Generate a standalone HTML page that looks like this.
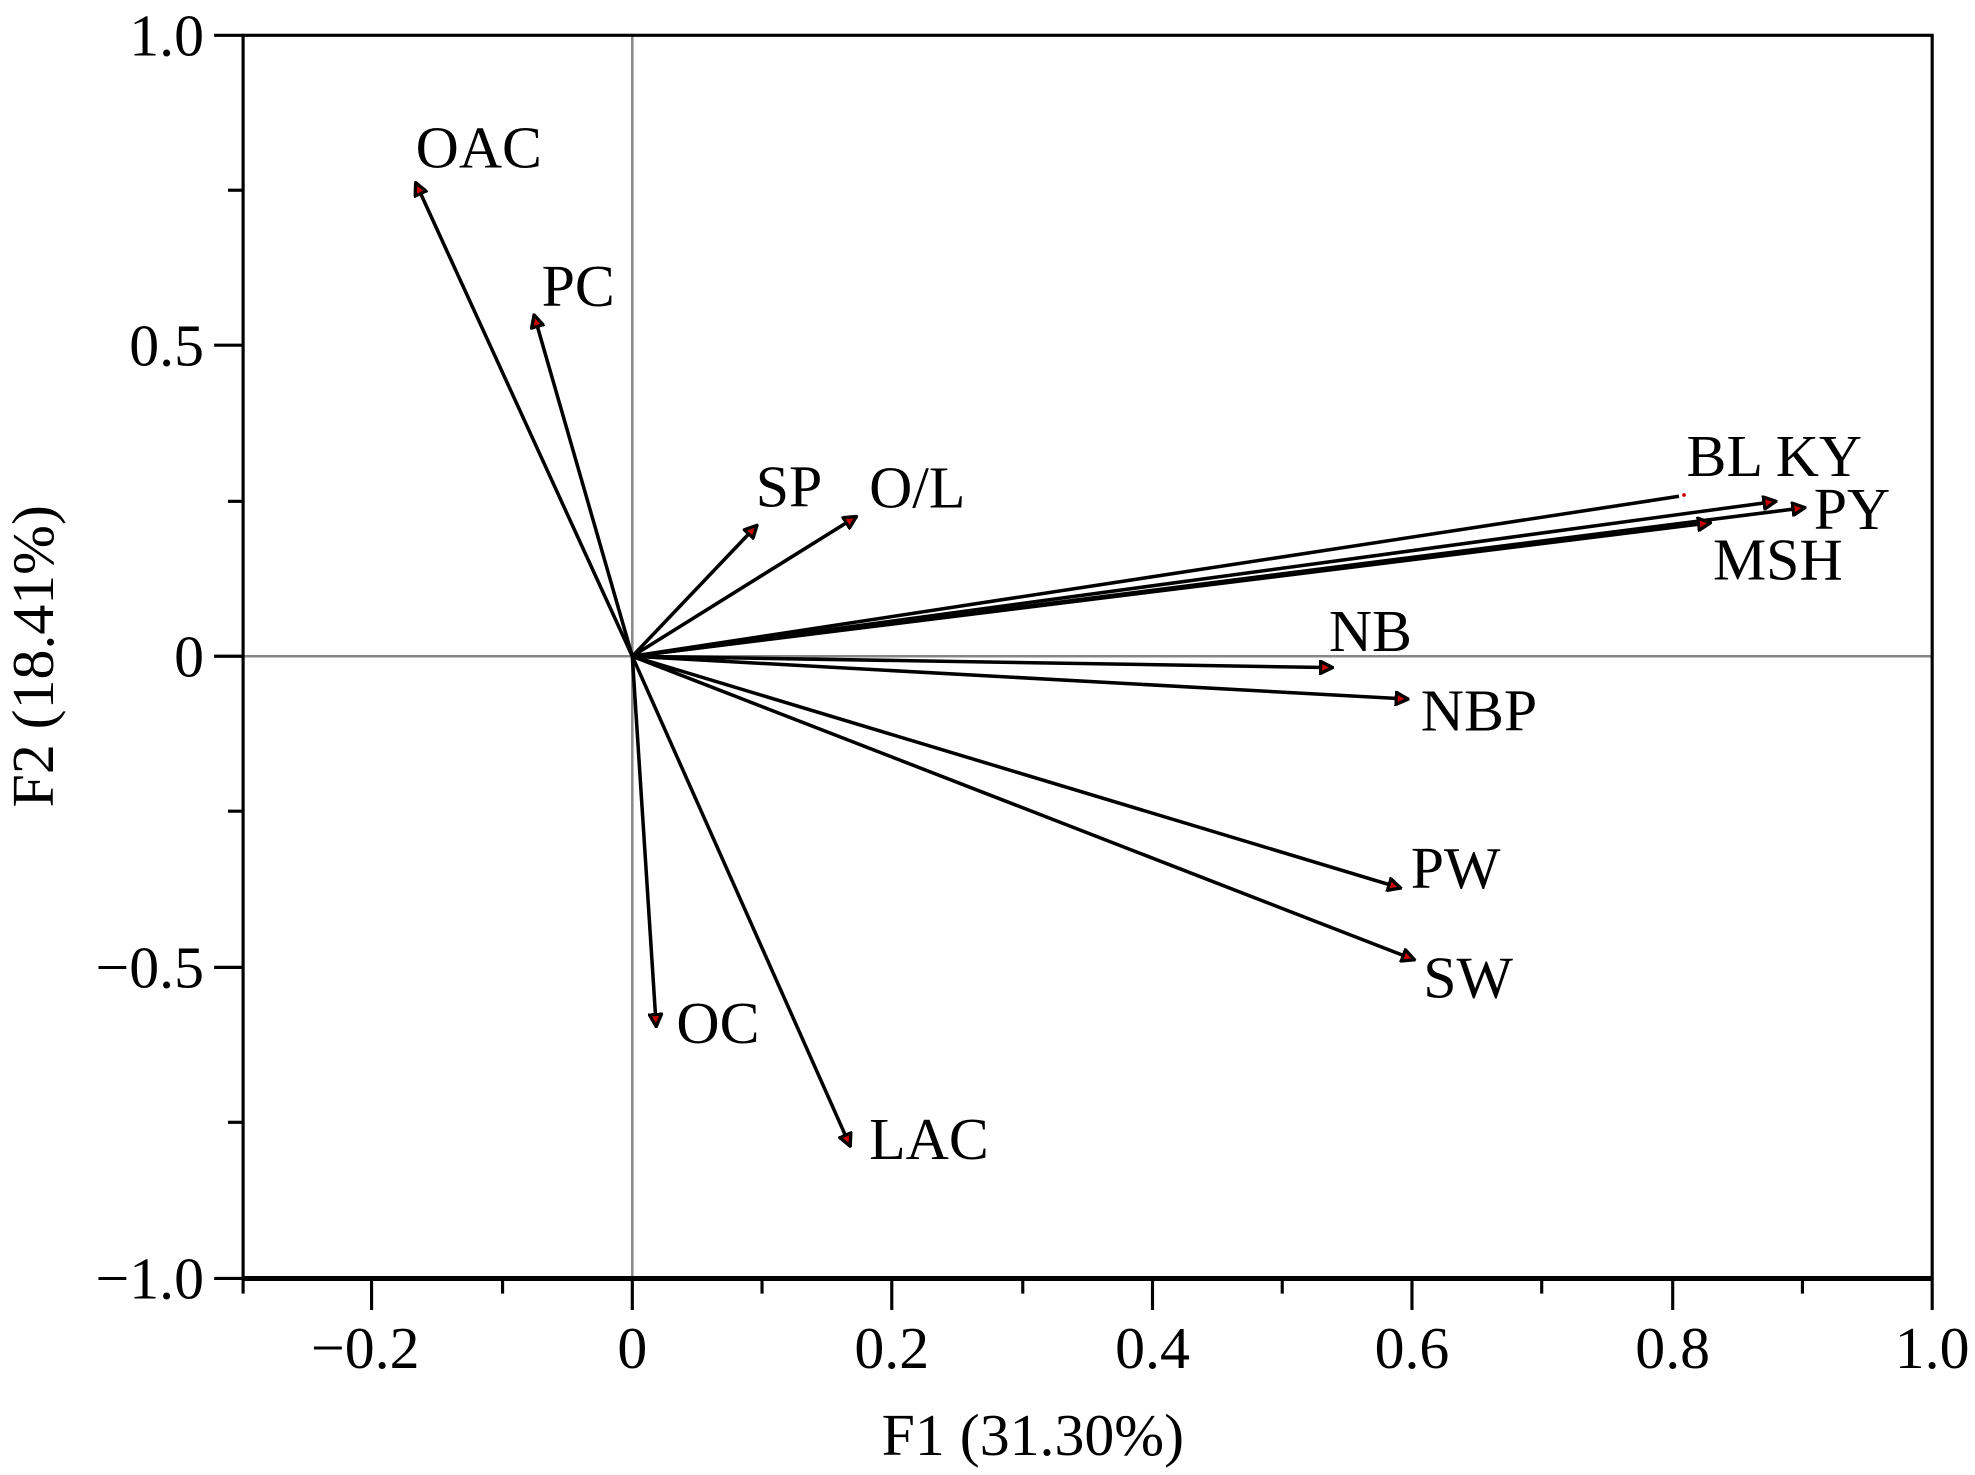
<!DOCTYPE html>
<html><head><meta charset="utf-8"><style>html,body{margin:0;padding:0;background:#fff}svg{display:block}</style></head><body>
<svg width="1975" height="1475" viewBox="0 0 1568 1171" xmlns="http://www.w3.org/2000/svg" font-family="'Liberation Serif', serif" font-size="47.5">
<defs>
<marker id="ah" viewBox="0 0 10 10" refX="9" refY="5" markerWidth="12" markerHeight="12" orient="auto" markerUnits="userSpaceOnUse">
<path d="M1,1 L9,5 L1,9 Z" fill="#c00" stroke="#000" stroke-width="2.2"/>
</marker>
</defs>
<rect x="0" y="0" width="1568" height="1171" fill="#fff"/>
<line x1="502" y1="28" x2="502" y2="1015" stroke="#888" stroke-width="2"/>
<line x1="193" y1="521" x2="1534" y2="521" stroke="#888" stroke-width="2"/>
<rect x="193" y="28" width="1341" height="987" fill="none" stroke="#000" stroke-width="2.5"/>
<line x1="193" y1="1015" x2="1534" y2="1015" stroke="#000" stroke-width="4"/>
<g stroke="#000" stroke-width="2.5">
<line x1="170" y1="28" x2="193" y2="28"/><line x1="181" y1="151" x2="193" y2="151"/>
<line x1="170" y1="274" x2="193" y2="274"/><line x1="181" y1="398" x2="193" y2="398"/>
<line x1="170" y1="521" x2="193" y2="521"/><line x1="181" y1="644" x2="193" y2="644"/>
<line x1="170" y1="768" x2="193" y2="768"/><line x1="181" y1="891" x2="193" y2="891"/>
<line x1="170" y1="1015" x2="193" y2="1015"/>
<line x1="193" y1="1015" x2="193" y2="1027"/>
<line x1="295" y1="1015" x2="295" y2="1040"/><line x1="399" y1="1015" x2="399" y2="1027"/>
<line x1="502" y1="1015" x2="502" y2="1040"/><line x1="605" y1="1015" x2="605" y2="1027"/>
<line x1="708" y1="1015" x2="708" y2="1040"/><line x1="812" y1="1015" x2="812" y2="1027"/>
<line x1="915" y1="1015" x2="915" y2="1040"/><line x1="1018" y1="1015" x2="1018" y2="1027"/>
<line x1="1121" y1="1015" x2="1121" y2="1040"/><line x1="1224" y1="1015" x2="1224" y2="1027"/>
<line x1="1328" y1="1015" x2="1328" y2="1040"/><line x1="1431" y1="1015" x2="1431" y2="1027"/>
<line x1="1534" y1="1015" x2="1534" y2="1040"/>
</g>
<g text-anchor="end">
<text x="162" y="44">1.0</text><text x="162" y="290">0.5</text><text x="162" y="537">0</text>
<text x="162" y="784">−0.5</text><text x="162" y="1031">−1.0</text>
</g>
<g text-anchor="middle">
<text x="290" y="1086">−0.2</text><text x="502" y="1086">0</text><text x="708" y="1086">0.2</text>
<text x="915" y="1086">0.4</text><text x="1121" y="1086">0.6</text><text x="1328" y="1086">0.8</text>
<text x="1534" y="1086">1.0</text>
<text x="820" y="1155">F1 (31.30%)</text>
<text transform="translate(42,521) rotate(-90)">F2 (18.41%)</text>
</g>
<g stroke="#000" stroke-width="2.8" fill="none" marker-end="url(#ah)">
<line x1="502" y1="521" x2="330" y2="145"/>
<line x1="502" y1="521" x2="424" y2="250"/>
<line x1="502" y1="521" x2="601" y2="417"/>
<line x1="502" y1="521" x2="680" y2="410"/>
<line x1="502" y1="521" x2="1410" y2="398"/>
<line x1="502" y1="521" x2="1433" y2="403"/>
<line x1="502" y1="521" x2="1358" y2="415"/>
<line x1="502" y1="521" x2="1058" y2="530"/>
<line x1="502" y1="521" x2="1118" y2="555"/>
<line x1="502" y1="521" x2="1112" y2="705"/>
<line x1="502" y1="521" x2="1123" y2="762"/>
<line x1="502" y1="521" x2="521" y2="815"/>
<line x1="502" y1="521" x2="675" y2="910"/>
</g>
<line x1="502" y1="521" x2="1333" y2="394" stroke="#000" stroke-width="2.8"/>
<circle cx="1337" cy="393" r="1.5" fill="#c00"/>
<g>
<text x="330" y="133">OAC</text>
<text x="430" y="243">PC</text>
<text x="600" y="402">SP</text>
<text x="690" y="403">O/L</text>
<text x="1339" y="378">BL KY</text>
<text x="1440" y="420">PY</text>
<text x="1360" y="460">MSH</text>
<text x="1055" y="517">NB</text>
<text x="1128" y="580">NBP</text>
<text x="1120" y="705">PW</text>
<text x="1130" y="792">SW</text>
<text x="537" y="828">OC</text>
<text x="690" y="920">LAC</text>
</g>
</svg>
</body></html>
